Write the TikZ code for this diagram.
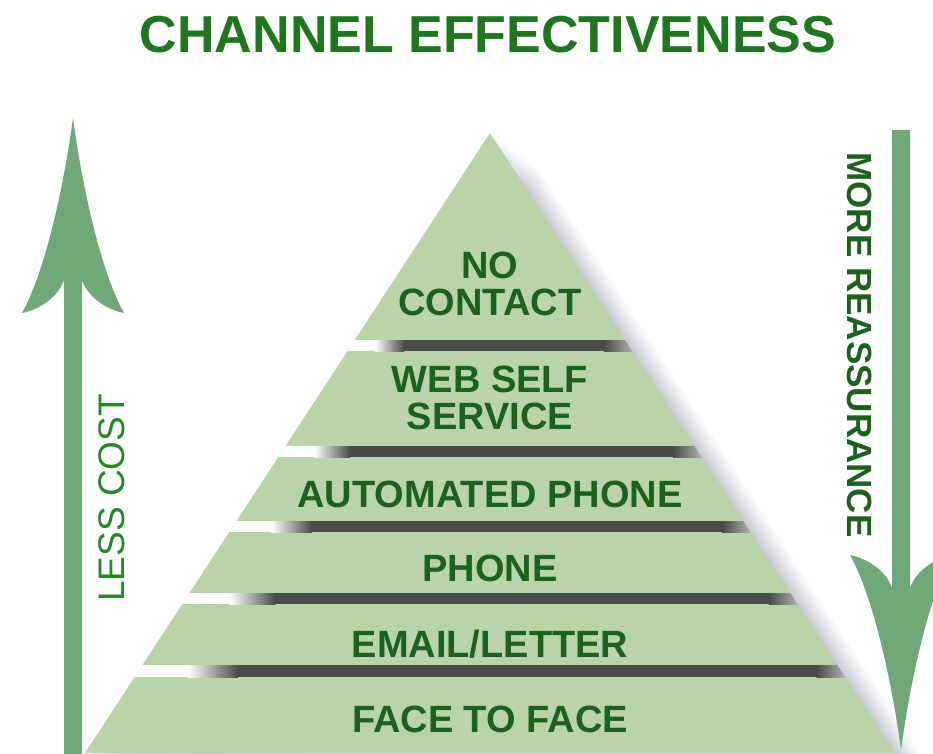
\documentclass[tikz,border=0pt]{standalone}
\usepackage{fontspec}
\setmainfont{Liberation Sans}
\usetikzlibrary{calc}

\definecolor{layergreen}{RGB}{185,212,168}
\definecolor{arrowgreen}{RGB}{112,168,122}
\definecolor{textgreen}{RGB}{28,98,28}
\definecolor{titlegreen}{RGB}{30,118,30}
\definecolor{sidegreen}{RGB}{38,135,38}
\definecolor{bandgray}{RGB}{74,74,74}

\begin{document}
\begin{tikzpicture}[x=1pt,y=-1pt,
	layertext/.style={
		font=\fontsize{38}{37}\selectfont\bfseries,text=textgreen,
		align=center,inner sep=0pt,text depth=0pt
	},
	sidetext/.style={inner sep=0pt,text depth=0pt},
	pics/bigarrow/.style={code={
		\fill[arrowgreen] (0,0) .. controls (-8,60) and (-26,150) .. (-51,195)
		.. controls (-35,192) and (-15,180) .. (-9,162) -- (-9,#1) -- (9,#1) -- (9,162)
		.. controls (15,180) and (35,192) .. (51,195)
		.. controls (26,150) and (8,60) .. (0,0) -- cycle;
	}}
	]
	\useasboundingbox (0,0) rectangle (933,753);
	\clip (0,0) rectangle (933,753);
	
	% pyramid corners
	\coordinate (apex) at (490,133);
	\coordinate (baseL) at (85,753);
	\coordinate (baseR) at (895,753);
	
	% soft shadow on the right side
	\foreach \i in {1,...,26}
		\fill[black!80!blue,opacity=0.009] ([shift={(1.9*\i,1.4*\i)}]apex) -- ([shift={(1.9*\i,1.4*\i)}]baseR) -- (baseL) -- cycle;
	
	% pyramid body
	\fill[layergreen] (apex) -- (baseR) -- (baseL) -- cycle;
	
	% dark gaps between the layers
	\begin{scope}
		\clip (apex) -- (baseR) -- (baseL) -- cycle;
		\foreach \ya/\yb in {340/351, 446/457, 521/532, 593/604, 665/677}{
			\pgfmathsetmacro\w{0.6526*(\yb-133)}
			\pgfmathsetmacro\xl{490-\w}
			\pgfmathsetmacro\xr{490+\w}
			\pgfmathsetmacro\xa{\xl+10+0.12*\w}
			\pgfmathsetmacro\xb{\xl+25+0.22*\w}
			\fill[white] (\xl-10,\ya) rectangle (\xr+10,\yb);
			\shade[left color=white,right color=bandgray] (\xa,\ya) rectangle (\xb,\yb);
			\fill[bandgray] (\xb-0.5,\ya) rectangle (\xr-28,\yb);
			\shade[left color=bandgray,right color=gray!55] (\xr-28.5,\ya) rectangle (\xr+2,\yb);
		}
	\end{scope}
	
	% layer labels
	\node[layertext] (nocontact) at (490,284) {NO\\CONTACT};
	\node[layertext] (webself) at (490,398) {WEB SELF\\SERVICE};
	\node[layertext] (autophone) at (490,494) {AUTOMATED PHONE};
	\node[layertext] (phone) at (490,568) {PHONE};
	\node[layertext] (email) at (490,644) {EMAIL/LETTER};
	\node[layertext] (face) at (490,719) {FACE TO FACE};
	
	% title and side labels
	\node[sidetext,font=\fontsize{52}{52}\selectfont\bfseries,text=titlegreen] (title) at (488,34) {CHANNEL EFFECTIVENESS};
	\node[sidetext,rotate=90,font=\fontsize{37}{37}\selectfont,text=sidegreen] (lesscost) at (112,498) {LESS COST};
	\node[sidetext,rotate=-90,font=\fontsize{35}{35}\selectfont\bfseries,text=textgreen] (reassure) at (860,345) {MORE REASSURANCE};
	
	% big arrows
	\pic at (73,118) {bigarrow=640};
	\pic[rotate=180] at (901,750) {bigarrow=620};
\end{tikzpicture}
\end{document}
